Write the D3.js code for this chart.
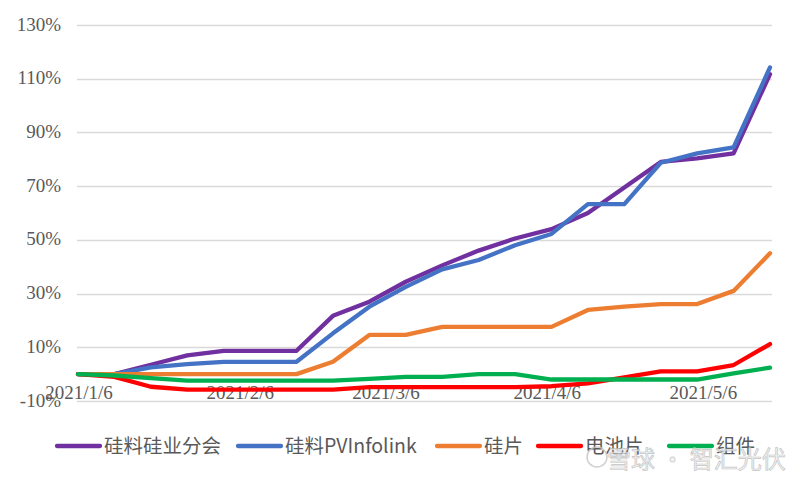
<!DOCTYPE html>
<html>
<head>
<meta charset="utf-8">
<script src="https://cdn.jsdelivr.net/npm/d3@7"></script>
<style>
  html, body { margin: 0; padding: 0; background: #fff; }
  svg { display: block; }
</style>
</head>
<body>
<svg id="chart" width="800" height="481"></svg>
<script>
// ---- data ----
const dates = ["2021-01-06","2021-01-13","2021-01-20","2021-01-27","2021-02-03","2021-02-10","2021-02-17","2021-02-24",
  "2021-03-03","2021-03-10","2021-03-17","2021-03-24","2021-03-31","2021-04-07","2021-04-14","2021-04-21",
  "2021-04-28","2021-05-05","2021-05-12","2021-05-19"];
const polyAssoc = [0, 0, 3.5, 7, 8.7, 8.7, 8.7, 21.7, 27, 34.4, 40.5, 46, 50.5, 54, 60, 69.5, 79, 80.3, 82.2, 111.7];
const polyInfolink = [0, 0, 2.5, 3.7, 4.6, 4.6, 4.6, 15.2, 25.1, 32.5, 39, 42.5, 48, 52.2, 63.3, 63.3, 78.7, 82.2, 84.4, 114.2];
const wafer = [0, 0, 0, 0, 0, 0, 0, 4.6, 14.6, 14.6, 17.6, 17.6, 17.6, 17.6, 23.9, 25.1, 26.1, 26.1, 31, 45];
const cell = [0, -1, -4.7, -5.8, -5.8, -5.8, -5.8, -5.8, -4.8, -4.8, -4.8, -4.8, -4.8, -4.5, -3.4, -1.2, 1, 1, 3.4, 11.2];
const module_ = [0, -0.5, -1.5, -2.4, -2.4, -2.4, -2.4, -2.4, -1.8, -1, -1, 0, 0, -2, -2, -2, -2, -2, 0.3, 2.4];
const seriesNames = ["硅料硅业分会", "硅料PVInfolink", "硅片", "电池片", "组件"];
const seriesColors = ["#7030A0", "#4472C4", "#ED7D31", "#FF0000", "#00B050"];
const yTicks = [-10, 10, 30, 50, 70, 90, 110, 130];
const xTickDates = ["2021-01-06", "2021-02-06", "2021-03-06", "2021-04-06", "2021-05-06"];
const xTickLabels = ["2021/1/6", "2021/2/6", "2021/3/6", "2021/4/6", "2021/5/6"];

// ---- layout ----
const parse = d3.utcParse("%Y-%m-%d");
const svg = d3.select("#chart");
const plotLeft = 77, plotRight = 772;
const legendStarts = [57, 238, 437, 538, 669];
const x = d3.scaleUtc().domain([parse(dates[0]), parse(dates[dates.length - 1])]).range([78, 770]);
const y = d3.scaleLinear().domain([-10, 130]).range([401, 25]);
const gray = "#595959";

// gridlines
svg.append("g").selectAll("line").data(yTicks).join("line")
  .attr("x1", plotLeft).attr("x2", plotRight)
  .attr("y1", d => Math.round(y(d)) + 0.5).attr("y2", d => Math.round(y(d)) + 0.5)
  .attr("stroke", "#d9d9d9").attr("stroke-width", 1.3);

// y labels
svg.append("g").selectAll("text").data(yTicks).join("text")
  .attr("x", 61).attr("y", d => y(d) + 5.5)
  .attr("text-anchor", "end")
  .attr("font-family", "'Liberation Serif', 'Times New Roman', serif")
  .attr("font-size", 19).attr("fill", gray)
  .text(d => d + "%");

// x labels
svg.append("g").selectAll("text").data(xTickDates).join("text")
  .attr("x", d => x(parse(d)) + 1).attr("y", 399)
  .attr("text-anchor", "middle")
  .attr("font-family", "'Liberation Serif', 'Times New Roman', serif")
  .attr("font-size", 19).attr("fill", gray)
  .text((d, i) => xTickLabels[i]);

// lines
const allSeries = [polyAssoc, polyInfolink, wafer, cell, module_];
const line = d3.line().x((d, i) => x(parse(dates[i]))).y(d => y(d));
svg.append("g").selectAll("path").data(allSeries).join("path")
  .attr("d", d => line(d))
  .attr("fill", "none")
  .attr("stroke", (d, i) => seriesColors[i])
  .attr("stroke-width", 4.3)
  .attr("stroke-linejoin", "round")
  .attr("stroke-linecap", "round");

// legend
const legend = svg.append("g");
const ly = 446;
seriesNames.forEach((name, i) => {
  const lx = legendStarts[i];
  legend.append("line")
    .attr("x1", lx).attr("x2", lx + 43).attr("y1", ly).attr("y2", ly)
    .attr("stroke", seriesColors[i]).attr("stroke-width", 4.3).attr("stroke-linecap", "round");
  legend.append("text")
    .attr("x", lx + 47).attr("y", ly + 7)
    .attr("font-family", "'Noto Sans CJK SC', 'Noto Sans', sans-serif")
    .attr("font-size", 19.5).attr("fill", gray)
    .text(name);
});

// watermark
const wm = svg.append("g").attr("opacity", 0.8);
wm.append("circle").attr("cx", 597).attr("cy", 457).attr("r", 10)
  .attr("fill", "none").attr("stroke", "#c4c4c4").attr("stroke-width", 1.5);
wm.append("text")
  .attr("x", 607).attr("y", 468)
  .attr("font-family", "'Noto Sans CJK SC', sans-serif")
  .attr("font-size", 24).attr("fill", "#eeeeee")
  .attr("stroke", "#b8b8b8").attr("stroke-width", 0.7)
  .text("雪球 · 智汇光伏");
</script>
</body>
</html>
